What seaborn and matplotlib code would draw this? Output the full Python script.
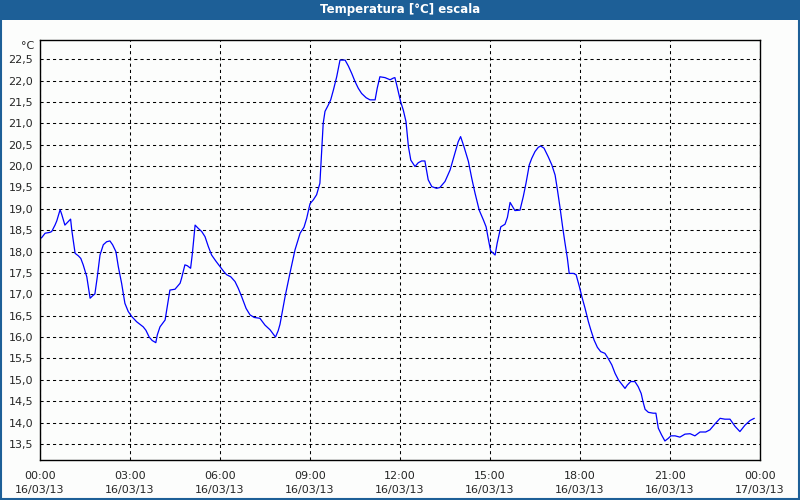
import numpy as np
import pandas as pd
import matplotlib
matplotlib.use("Agg")
import matplotlib.pyplot as plt
import matplotlib.dates as mdates
from matplotlib.patches import Rectangle
import seaborn as sns

# ---- data (hours after 16/03/13 00:00, temperature in °C) ----
hours = [0.00, 0.06, 0.17, 0.33, 0.39, 0.50, 0.56, 0.67, 0.72, 0.83, 0.94, 1.02, 1.06,
         1.17, 1.28, 1.36, 1.44, 1.56, 1.67, 1.76, 1.83, 1.91, 2.00, 2.11, 2.22, 2.33,
         2.42, 2.53, 2.61, 2.72, 2.83, 2.94, 3.06, 3.22, 3.44, 3.53, 3.64, 3.74, 3.86,
         3.91, 4.00, 4.17, 4.24, 4.33, 4.50, 4.67, 4.72, 4.83, 4.91, 5.02, 5.08, 5.17,
         5.28, 5.39, 5.50, 5.61, 5.72, 5.87, 6.00, 6.13, 6.22, 6.36, 6.50, 6.61, 6.72,
         6.87, 7.00, 7.14, 7.33, 7.50, 7.67, 7.85, 7.94, 8.00, 8.17, 8.33, 8.50, 8.67,
         8.80, 8.89, 9.00, 9.11, 9.22, 9.33, 9.39, 9.44, 9.50, 9.61, 9.69, 9.78, 9.89,
         10.00, 10.17, 10.28, 10.39, 10.50, 10.61, 10.72, 10.87, 11.00, 11.17, 11.24,
         11.33, 11.50, 11.67, 11.78, 11.83, 11.89, 12.02, 12.11, 12.20, 12.28, 12.36,
         12.50, 12.61, 12.72, 12.83, 12.94, 13.06, 13.22, 13.33, 13.50, 13.67, 13.83,
         13.94, 14.02, 14.13, 14.28, 14.39, 14.50, 14.64, 14.78, 14.87, 14.94, 15.02,
         15.17, 15.24, 15.36, 15.50, 15.58, 15.67, 15.83, 16.00, 16.11, 16.20, 16.31,
         16.39, 16.50, 16.61, 16.69, 16.80, 16.94, 17.06, 17.17, 17.24, 17.33, 17.42,
         17.50, 17.58, 17.64, 17.78, 17.87, 17.98, 18.06, 18.17, 18.28, 18.36, 18.47,
         18.58, 18.69, 18.83, 18.94, 19.06, 19.17, 19.28, 19.39, 19.50, 19.58, 19.69,
         19.83, 19.94, 20.04, 20.10, 20.17, 20.28, 20.44, 20.53, 20.61, 20.72, 20.83,
         20.94, 21.03, 21.17, 21.33, 21.50, 21.67, 21.83, 22.00, 22.19, 22.33, 22.50,
         22.67, 22.83, 23.00, 23.17, 23.33, 23.50, 23.67, 23.81]
temps = [18.30, 18.33, 18.43, 18.45, 18.47, 18.62, 18.72, 18.98, 18.88, 18.62, 18.70, 18.76, 18.50,
         17.96, 17.90, 17.84, 17.69, 17.41, 16.91, 16.97, 17.01, 17.41, 17.92, 18.16, 18.23, 18.25,
         18.16, 18.00, 17.65, 17.26, 16.79, 16.60, 16.48, 16.36, 16.24, 16.16, 16.00, 15.92, 15.87,
         16.05, 16.24, 16.40, 16.71, 17.10, 17.12, 17.26, 17.38, 17.69, 17.67, 17.61, 17.96, 18.62,
         18.54, 18.47, 18.35, 18.12, 17.92, 17.77, 17.65, 17.53, 17.46, 17.41, 17.30, 17.14, 16.95,
         16.67, 16.52, 16.46, 16.44, 16.28, 16.17, 16.00, 16.15, 16.30, 16.95, 17.49, 18.04, 18.43,
         18.57, 18.78, 19.12, 19.21, 19.33, 19.60, 20.38, 21.00, 21.28, 21.43, 21.55, 21.78, 22.09,
         22.48, 22.48, 22.34, 22.17, 21.98, 21.82, 21.70, 21.60, 21.55, 21.55, 21.82,
         22.09, 22.07, 22.02, 22.06, 22.07, 21.90, 21.51, 21.31, 21.04, 20.46, 20.14,
         19.99, 20.08, 20.12, 20.12, 19.68, 19.52, 19.48, 19.50, 19.64, 19.91, 20.30,
         20.57, 20.69, 20.46, 20.11, 19.72, 19.37, 18.97, 18.74, 18.58, 18.31, 18.02,
         17.92, 18.20, 18.58, 18.64, 18.80, 19.15, 18.96, 18.97, 19.29, 19.60, 20.03,
         20.18, 20.34, 20.44, 20.47, 20.42, 20.22, 20.03, 19.79, 19.48, 19.05, 18.58,
         18.20, 17.84, 17.49, 17.49, 17.46, 17.18, 16.95, 16.67, 16.36, 16.17, 15.93,
         15.76, 15.66, 15.62, 15.50, 15.35, 15.15, 15.00, 14.90, 14.80, 14.88, 14.96,
         14.96, 14.84, 14.68, 14.49, 14.31, 14.24, 14.22, 14.22, 13.87, 13.71, 13.57,
         13.63, 13.69, 13.69, 13.66, 13.73, 13.74, 13.69, 13.78, 13.78, 13.83, 13.97,
         14.10, 14.08, 14.08, 13.91, 13.79, 13.94, 14.05, 14.10]
y_ticks = [13.5, 14.0, 14.5, 15.0, 15.5, 16.0, 16.5, 17.0, 17.5, 18.0,
           18.5, 19.0, 19.5, 20.0, 20.5, 21.0, 21.5, 22.0, 22.5]
title = "Temperatura [°C] escala"
unit_label = "°C"

start = pd.Timestamp("2013-03-16 00:00")
df = pd.DataFrame({"time": start + pd.to_timedelta(hours, unit="h"), "temp": temps})

sns.set_style("white")
plt.rcParams["font.family"] = ["DejaVu Sans"]

BG = "#fcfdfc"
BLUE = "#1d5f97"

fig = plt.figure(figsize=(8, 5), dpi=100, facecolor=BG)
ax = fig.add_axes([0.05, 0.08, 0.90, 0.84])
ax.set_facecolor(BG)

sns.lineplot(data=df, x="time", y="temp", ax=ax, color="#0000ff", linewidth=0.9)

ax.set_xlim(start, start + pd.Timedelta(hours=24))
ax.set_ylim(13.125, 22.95)

ax.xaxis.set_major_locator(mdates.HourLocator(byhour=range(0, 24, 3)))
ax.xaxis.set_minor_locator(mdates.HourLocator())
ax.xaxis.set_major_formatter(mdates.DateFormatter("%H:%M\n%d/%m/%y"))
ax.set_yticks(y_ticks)
ax.set_yticklabels([f"{v:.1f}".replace(".", ",") for v in y_ticks])

ax.grid(True, which="major", color="black", linestyle=(0, (3, 3)), linewidth=0.75)
ax.tick_params(axis="x", which="both", direction="out", length=4, width=0.8,
               color="black", labelsize=8, pad=4)
ax.tick_params(axis="y", length=0, labelsize=8, pad=5)
for lab in ax.get_xticklabels():
    lab.set_linespacing(1.5)
for s in ax.spines.values():
    s.set_visible(True)
    s.set_color("black")
    s.set_linewidth(1.0)
ax.set_xlabel("")
ax.set_ylabel("")

# unit label
fig.text(34 / 800, 1 - 46 / 500, unit_label, ha="right", va="center", fontsize=8)

# title bar and frame
fig.patches.append(Rectangle((0, 1 - 20 / 500), 1, 20 / 500, transform=fig.transFigure,
                             facecolor=BLUE, edgecolor="none", zorder=0))
fig.patches.append(Rectangle((0.001, 0.002), 0.998, 0.996, transform=fig.transFigure,
                             facecolor="none", edgecolor=BLUE, linewidth=1.5, zorder=1))
fig.text(0.5, 1 - 10 / 500, title, ha="center", va="center", color="white",
         fontsize=8.5, fontweight="bold")

fig.savefig("out.png", dpi=100, facecolor=BG)
